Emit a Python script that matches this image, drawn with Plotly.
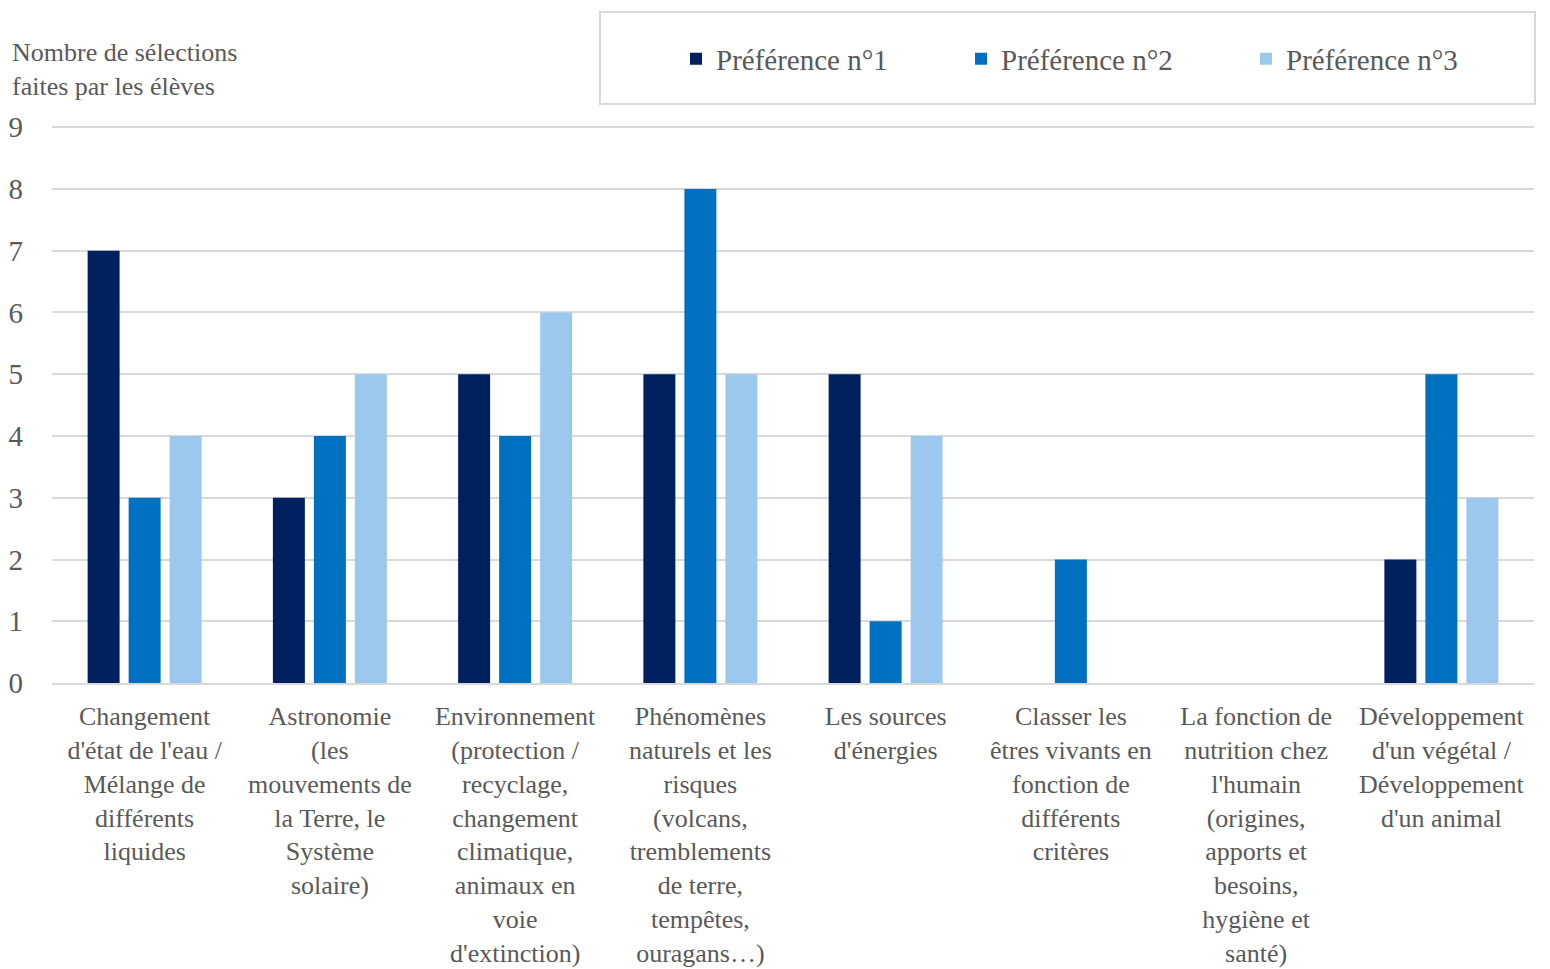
import plotly.graph_objects as go

categories = [
    "Changement<br>d'état de l'eau /<br>Mélange de<br>différents<br>liquides",
    "Astronomie<br>(les<br>mouvements de<br>la Terre, le<br>Système<br>solaire)",
    "Environnement<br>(protection /<br>recyclage,<br>changement<br>climatique,<br>animaux en<br>voie<br>d'extinction)",
    "Phénomènes<br>naturels et les<br>risques<br>(volcans,<br>tremblements<br>de terre,<br>tempêtes,<br>ouragans…)",
    "Les sources<br>d'énergies",
    "Classer les<br>êtres vivants en<br>fonction de<br>différents<br>critères",
    "La fonction de<br>nutrition chez<br>l'humain<br>(origines,<br>apports et<br>besoins,<br>hygiène et<br>santé)",
    "Développement<br>d'un végétal /<br>Développement<br>d'un animal",
]
pref1 = [7, 3, 5, 5, 5, 0, 0, 2]
pref2 = [3, 4, 4, 8, 1, 2, 0, 5]
pref3 = [4, 5, 6, 5, 4, 0, 0, 3]
series_names = ["Préférence n°1", "Préférence n°2", "Préférence n°3"]
colors = ["#002060", "#0070C0", "#9DC8EE"]
y_ticks = list(range(0, 10))

FONT = "Liberation Serif"
GREY = "#595959"

# page body has an 8px margin: work in screen pixels and convert
OFF = 8
W, H = 1550 - OFF, 969 - OFF
PL, PR, PT, PB = 52, 1534, 126, 683  # plot area in screen pixels
L, R, T, B = PL - OFF, W - (PR - OFF), PT - OFF, H - (PB - OFF)
PW = W - L - R
PH = H - T - B

def px_x(px):
    return (px - OFF - L) / PW

def px_y(py):
    return (H - B - (py - OFF)) / PH

fig = go.Figure()
for name, vals, col in zip(series_names, [pref1, pref2, pref3], colors):
    fig.add_trace(go.Bar(x=list(range(len(categories))), y=vals, name=name,
                         marker=dict(color=col, line=dict(width=0))))

fig.update_layout(
    width=W, height=H,
    margin=dict(l=L, r=R, t=T, b=B, autoexpand=False),
    paper_bgcolor="white", plot_bgcolor="white",
    barmode="group", bargap=0.336, bargroupgap=0.22,
    font=dict(family=FONT, size=26, color=GREY),
    showlegend=True,
    legend=dict(orientation="h", x=px_x(676), xanchor="left", y=px_y(59), yanchor="middle",
                entrywidth=240, entrywidthmode="pixels",
                bgcolor="rgba(0,0,0,0)", borderwidth=0,
                font=dict(family=FONT, size=29, color=GREY)),
    xaxis=dict(tickmode="array", tickvals=list(range(len(categories))), ticktext=categories,
               tickangle=0, showgrid=False, showline=True, linecolor="#D9D9D9", linewidth=2,
               range=[-0.5, len(categories) - 0.5], ticks="", zeroline=False,
               automargin=False, ticklabelstandoff=9,
               tickfont=dict(family=FONT, size=26, color=GREY)),
    yaxis=dict(range=[0, 9.02], tickmode="array", tickvals=y_ticks, showgrid=True,
               gridcolor="#D9D9D9", gridwidth=1.5, zeroline=False, showline=False,
               ticks="", ticklabelstandoff=28, automargin=False,
               tickfont=dict(family=FONT, size=29, color=GREY)),
    shapes=[dict(type="rect", xref="paper", yref="paper",
                 x0=px_x(600), x1=px_x(1535), y0=px_y(104), y1=px_y(12),
                 line=dict(color="#D9D9D9", width=2), fillcolor="rgba(0,0,0,0)", layer="below")],
    annotations=[dict(text="Nombre de sélections<br>faites par les élèves", xref="paper", yref="paper",
                      x=px_x(10), y=px_y(69), xanchor="left", yanchor="middle",
                      align="left", showarrow=False,
                      font=dict(family=FONT, size=26, color=GREY))],
)

fig.write_html("out.html")
